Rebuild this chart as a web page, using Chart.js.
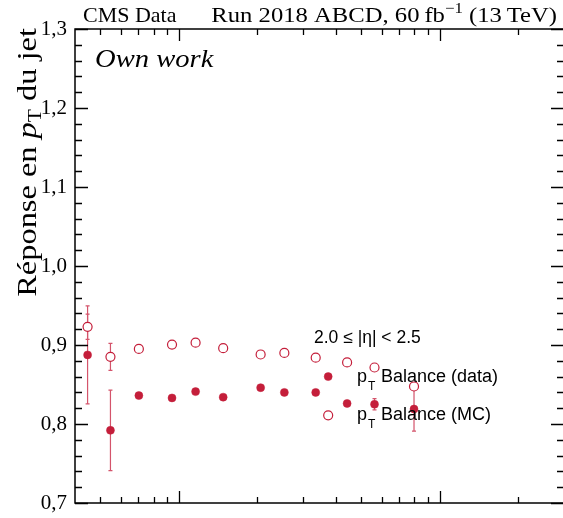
<!DOCTYPE html>
<html>
<head>
<meta charset="utf-8">
<script src="https://cdn.jsdelivr.net/npm/chart.js@4.4.1/dist/chart.umd.min.js"></script>
<style>
    html, body { margin: 0; padding: 0; background: #fff; overflow: hidden; }
    #wrap { width: 563px; height: 518px; overflow: hidden; }
</style>
</head>
<body>
<div id="wrap"><canvas id="chart" width="600" height="518"></canvas></div>
<script>
// jet pT (GeV) bins
const ptBins = [44.7, 54.7, 70.3, 94.2, 116, 148, 206, 254, 335, 374, 442, 563, 798];
// pT balance response, data (open markers)
const respData = [0.923, 0.885, 0.895, 0.9005, 0.903, 0.896, 0.888, 0.890, 0.884, 0.811, 0.878, 0.8715, 0.8475];
const errData = [0.016, 0.017, 0.002, 0.002, 0.002, 0.002, 0.002, 0.002, 0.002, 0.002, 0.002, 0.003, 0.005];
// pT balance response, MC (filled markers)
const respMC = [0.8875, 0.792, 0.836, 0.833, 0.841, 0.834, 0.846, 0.840, 0.840, 0.860, 0.826, 0.825, 0.819];
const errMC = [0.062, 0.051, 0.002, 0.002, 0.002, 0.002, 0.002, 0.002, 0.002, 0.002, 0.002, 0.007, 0.028];

const yTicks = [0.7, 0.8, 0.9, 1.0, 1.1, 1.2, 1.3];
const xMinorTicks = [50, 60, 70, 80, 90, 200, 300, 400, 500, 600, 700, 800, 900, 2000];
const xMajorTicks = [100, 1000];

const red = '#c41e3a';
const errRed = '#d4546b';

const serif = '"Liberation Serif", "DejaVu Serif", serif';
const sans = '"Liberation Sans", Arial, sans-serif';

// draws text pieces [text, font, yOffset] one after another, stretched horizontally
function drawPieces(ctx, parts, x, y, stretch, alignRight) {
    let total = 0;
    parts.forEach(p => { ctx.font = p[1]; total += ctx.measureText(p[0]).width; });
    ctx.save();
    ctx.translate(x, y);
    ctx.scale(stretch, 1);
    let tx = alignRight ? -total : 0;
    parts.forEach(p => {
        ctx.font = p[1];
        ctx.fillText(p[0], tx, p[2]);
        tx += ctx.measureText(p[0]).width;
    });
    ctx.restore();
}

// inward ticks, frame, error bars and texts
const decor = {
    id: 'decor',
    beforeDatasetsDraw(chart) {
        const ctx = chart.ctx;
        const xs = chart.scales.x, ys = chart.scales.y;
        ctx.save();
        ctx.strokeStyle = errRed;
        ctx.lineWidth = 1.2;
        const sets = [[respData, errData], [respMC, errMC]];
        sets.forEach(([vals, errs]) => {
            vals.forEach((v, i) => {
                const px = xs.getPixelForValue(ptBins[i]);
                const y1 = ys.getPixelForValue(v - errs[i]);
                const y2 = ys.getPixelForValue(v + errs[i]);
                ctx.beginPath();
                ctx.moveTo(px, y1); ctx.lineTo(px, y2);
                ctx.moveTo(px - 2, y1); ctx.lineTo(px + 2, y1);
                ctx.moveTo(px - 2, y2); ctx.lineTo(px + 2, y2);
                ctx.stroke();
            });
        });
        ctx.restore();
    },
    afterDraw(chart) {
        const ctx = chart.ctx;
        const a = chart.chartArea;
        const xs = chart.scales.x, ys = chart.scales.y;
        ctx.save();
        ctx.strokeStyle = '#000';
        ctx.lineWidth = 1.5;
        ctx.strokeRect(a.left, a.top, a.right - a.left, a.bottom - a.top);

        ctx.lineWidth = 1.3;
        ctx.beginPath();
        // y ticks every 0.02
        for (let k = 0; k <= 30; k++) {
            const v = 0.7 + k * 0.02;
            const py = Math.round(ys.getPixelForValue(v)) + 0.5;
            const len = k % 5 === 0 ? 13 : 7;
            ctx.moveTo(a.left, py); ctx.lineTo(a.left + len, py);
            ctx.moveTo(a.right, py); ctx.lineTo(a.right - len, py);
        }
        xMinorTicks.forEach(v => {
            const px = Math.round(xs.getPixelForValue(v)) + 0.5;
            ctx.moveTo(px, a.bottom); ctx.lineTo(px, a.bottom - 6);
            ctx.moveTo(px, a.top); ctx.lineTo(px, a.top + 6);
        });
        xMajorTicks.forEach(v => {
            const px = Math.round(xs.getPixelForValue(v)) + 0.5;
            ctx.moveTo(px, a.bottom); ctx.lineTo(px, a.bottom - 12);
            ctx.moveTo(px, a.top); ctx.lineTo(px, a.top + 12);
        });
        ctx.stroke();

        // header
        ctx.fillStyle = '#000';
        ctx.textBaseline = 'alphabetic';
        drawPieces(ctx, [['CMS Data', '22px ' + serif, 0]], 83, 22, 1.0, false);
        drawPieces(ctx, [
            ['Run 2018 ABCD, 60\u2009fb', '22px ' + serif, 0],
            ['\u22121', '15px ' + serif, -9],
            [' (13\u2009TeV)', '22px ' + serif, 0]
        ], 557, 22, 1.12, true);

        drawPieces(ctx, [['Own work', 'italic 26px ' + serif, 0]], 95, 67, 1.1, false);

        // y axis title, rotated
        ctx.save();
        ctx.translate(36, 28);
        ctx.rotate(-Math.PI / 2);
        drawPieces(ctx, [
            ['R\u00e9ponse en ', '27px ' + serif, 0],
            ['p', 'italic 27px ' + serif, 0],
            ['T', '18px ' + serif, 5],
            [' du jet', '27px ' + serif, 0]
        ], 0, 0, 1.2, true);
        ctx.restore();

        // annotation texts
        ctx.font = '17.5px ' + sans;
        ctx.fillText('2.0 \u2264 |\u03b7| < 2.5', 314, 343);
        const labels = [['Balance (data)', 382], ['Balance (MC)', 420]];
        labels.forEach(([t, by]) => {
            ctx.font = '18px ' + sans;
            ctx.fillText('p', 357, by);
            ctx.font = '12px ' + sans;
            ctx.fillText('T', 368, by + 8);
            ctx.font = '18px ' + sans;
            ctx.fillText(t, 381, by);
        });
        ctx.restore();
    }
};

new Chart(document.getElementById('chart'), {
    type: 'scatter',
    data: {
        datasets: [
            {
                label: 'pT Balance (data)',
                data: ptBins.map((x, i) => ({ x: x, y: respData[i] })),
                pointStyle: 'circle',
                pointRadius: 4.5,
                pointBackgroundColor: '#fff',
                pointBorderColor: red,
                pointBorderWidth: 1.2
            },
            {
                label: 'pT Balance (MC)',
                data: ptBins.map((x, i) => ({ x: x, y: respMC[i] })),
                pointStyle: 'circle',
                pointRadius: 4,
                pointBackgroundColor: red,
                pointBorderColor: red,
                pointBorderWidth: 0.5
            }
        ]
    },
    options: {
        responsive: false,
        animation: false,
        layout: { padding: { top: 29, right: 36, bottom: 15, left: 0 } },
        plugins: {
            legend: { display: false },
            tooltip: { enabled: false }
        },
        scales: {
            x: {
                type: 'logarithmic',
                min: 40,
                max: 3000,
                ticks: { display: false },
                grid: { display: false },
                border: { display: false },
                afterFit: s => { s.height = 0; }
            },
            y: {
                min: 0.7,
                max: 1.3,
                afterBuildTicks: s => { s.ticks = yTicks.map(v => ({ value: v })); },
                ticks: {
                    padding: 8,
                    color: '#000',
                    font: { family: serif, size: 21 },
                    callback: v => Number(v).toFixed(1).replace('.', ',')
                },
                grid: { display: false, drawTicks: false },
                border: { display: false },
                afterFit: s => { s.width = 75; s.paddingTop = 0; s.paddingBottom = 0; }
            }
        }
    },
    plugins: [decor]
});
</script>
</body>
</html>
